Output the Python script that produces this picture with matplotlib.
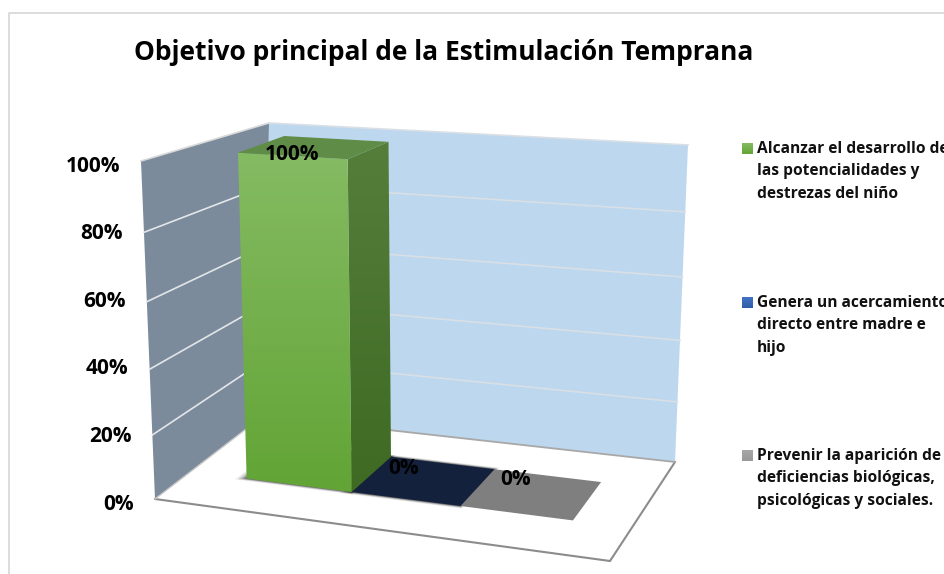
import numpy as np
import matplotlib
matplotlib.use('Agg')
import matplotlib.pyplot as plt
from matplotlib.patches import Polygon

title = 'Objetivo principal de la Estimulación Temprana'
tick_values = [0, 20, 40, 60, 80, 100]
tick_labels = ['0%', '20%', '40%', '60%', '80%', '100%']
values = [100, 0, 0]
value_labels = ['100%', '0%', '0%']
legend_lines = [
    ['Alcanzar el desarrollo de', 'las potencialidades y', 'destrezas del niño'],
    ['Genera un acercamiento', 'directo entre madre e', 'hijo'],
    ['Prevenir la aparición de', 'deficiencias biológicas,', 'psicológicas y sociales.'],
]

plt.rcParams['font.family'] = ['Open Sans', 'DejaVu Sans']

# box corners on screen, used to fit the fake 3d camera
box_3d = [(0, 0, 0), (1, 0, 0), (1, 1, 0), (0, 1, 0), (0, 0, 100), (0, 1, 100), (1, 1, 100)]
box_px = [(155, 499), (610, 561), (675, 462), (263, 416), (141, 161), (269, 123), (688, 145)]
f_l, f_r, b_r, b_l, ft_l, bt_l, bt_r = box_px

A = []
b = []
for (u, v, h), (px, py) in zip(box_3d, box_px):
    A.append([u, v, h, 1, 0, 0, 0, 0, -px*u, -px*v, -px*h])
    A.append([0, 0, 0, 0, u, v, h, 1, -py*u, -py*v, -py*h])
    b += [px, py]
m = np.linalg.lstsq(np.array(A, float), np.array(b, float), rcond=None)[0]
P = np.append(m, 1).reshape(3, 4)

def proj(u, v, h):
    r = P @ np.array([u, v, h, 1.0])
    # the bars lean left a bit more than the camera fit gives
    return (r[0]/r[2] - 6*h/100, r[1]/r[2])

def mix(p, q, t):
    return (p[0] + (q[0]-p[0])*t, p[1] + (q[1]-p[1])*t)

def wall_height(t):
    # heights shrink a little towards the top of the walls
    return t/(t + (1-t)*1.07)

fig = plt.figure(figsize=(9.44, 5.74), dpi=100)
ax = fig.add_axes([0, 0, 1, 1])

def gradient(pts, top, bottom, z):
    # vertical colour fade clipped to a polygon
    pts = np.array(pts)
    c1 = np.array(matplotlib.colors.to_rgb(top))
    c2 = np.array(matplotlib.colors.to_rgb(bottom))
    t = np.linspace(0, 1, 256)[:, None, None]
    img = c1[None, None, :]*(1-t) + c2[None, None, :]*t
    im = ax.imshow(img, extent=[pts[:, 0].min(), pts[:, 0].max(), pts[:, 1].max(), pts[:, 1].min()],
                   aspect='auto', zorder=z, interpolation='bilinear')
    poly = Polygon(pts, closed=True, transform=ax.transData, fc='none', ec='none')
    ax.add_patch(poly)
    im.set_clip_path(poly)

# chart border
ax.plot([9, 9, 944], [574, 13, 13], color='#d9d9d9', lw=1.3, zorder=1)

# walls
ax.add_patch(Polygon([b_l, b_r, bt_r, bt_l], fc='#bdd7ee', ec='none', zorder=2))
ax.add_patch(Polygon([f_l, b_l, bt_l, ft_l], fc='#7b8b9c', ec='none', zorder=2))

for t in tick_values[1:]:
    s = wall_height(t/100)
    a = mix(f_l, ft_l, s)
    c = mix(b_l, bt_l, s)
    d = mix(b_r, bt_r, s)
    col = '#d9d9d9' if t == 100 else '#e3e6e8'
    ax.plot([a[0], c[0]], [a[1], c[1]], color=col, lw=1.2, zorder=3)
    ax.plot([c[0], d[0]], [c[1], d[1]], color='#d8dfe6', lw=1.2, zorder=3)

# floor
ax.add_patch(Polygon([f_l, f_r, b_r, b_l], fc='white', ec='none', zorder=3))
ax.plot([f_l[0], f_r[0], b_r[0]], [f_l[1], f_r[1], b_r[1]],
        color='#8c8c8c', lw=1.5, zorder=4, solid_joinstyle='miter')
ax.plot([f_l[0], b_l[0]], [f_l[1], b_l[1]], color='#c8c8c8', lw=1.0, zorder=4)
ax.plot([b_l[0], b_r[0]], [b_l[1], b_r[1]], color='#a8a8a8', lw=1.3, zorder=4)

# bars
x_edges = [0.14, 0.388, 0.634, 0.877]
d0, d1 = 0.30, 0.705
bar_styles = [
    {'front': ('#85bb63', '#62a435'), 'side': ('#557e3b', '#3e6a23'), 'top': '#5f8c47'},
    {'front': ('#4472c4', '#2f5ea8'), 'side': ('#1f3864', '#14213d'), 'top': '#13213c'},
    {'front': ('#a5a5a5', '#8a8a8a'), 'side': ('#6d6d6d', '#5a5a5a'), 'top': '#7f7f7f'},
]

# soft shadow on the floor, under the bars
for grow, alpha in [(0.022, 0.08), (0.016, 0.14), (0.010, 0.2), (0.005, 0.28)]:
    for i in [0, 1]:
        s = [proj(x_edges[i] - grow, d0 - grow, 0), proj(x_edges[i+1] + grow*0.3, d0 - grow, 0),
             proj(x_edges[i+1] + grow*0.3, d1 + grow, 0), proj(x_edges[i] - grow, d1 + grow, 0)]
        ax.add_patch(Polygon(s, fc='black', ec='none', alpha=alpha, zorder=5))

for i in [2, 1, 0]:
    x0, x1 = x_edges[i], x_edges[i+1]
    h = values[i]
    st = bar_styles[i]
    z = 6 + (2 - i)
    if h > 0:
        gradient([proj(x1, d0, 0), proj(x1, d1, 0), proj(x1, d1, h), proj(x1, d0, h)],
                 st['side'][0], st['side'][1], z)
        gradient([proj(x0, d0, 0), proj(x1, d0, 0), proj(x1, d0, h), proj(x0, d0, h)],
                 st['front'][0], st['front'][1], z)
    ax.add_patch(Polygon([proj(x0, d0, h), proj(x1, d0, h), proj(x1, d1, h), proj(x0, d1, h)],
                         fc=st['top'], ec='none', zorder=z))

# value labels
label_shift = [(-23, 7), (-21, -12), (-17, -14)]
for i, lab in enumerate(value_labels):
    cx, cy = proj((x_edges[i] + x_edges[i+1])/2, (d0 + d1)/2, values[i])
    ax.text(cx + label_shift[i][0], cy + label_shift[i][1], lab, fontsize=15, fontweight='bold',
            ha='center', va='center', color='black', zorder=12)

# axis labels
for t, lab in zip(tick_values, tick_labels):
    px, py = mix(f_l, ft_l, t/100)
    ax.text(px - 21, py + 5, lab, fontsize=15, fontweight='bold', ha='right', va='center', color='black', zorder=12)

ax.text(444, 53, title, fontsize=19, fontweight='bold', ha='center', va='center', color='black', zorder=12)

# legend
swatches = [('#85bb63', '#62a435'), ('#4472c4', '#2f5ea8'), ('#a8a8a8', '#989898')]
legend_y = [149, 303, 456]
for lines, sw, y0 in zip(legend_lines, swatches, legend_y):
    gradient([(742, y0-6), (753, y0-6), (753, y0+5), (742, y0+5)], sw[0], sw[1], 10)
    for j, line in enumerate(lines):
        ax.text(757, y0 + j*22.3, line, fontsize=11.2, fontweight='bold', ha='left', va='center',
                color='#111111', zorder=12)

ax.set_xlim(0, 944)
ax.set_ylim(574, 0)
ax.axis('off')

fig.savefig('out.png', dpi=100)
